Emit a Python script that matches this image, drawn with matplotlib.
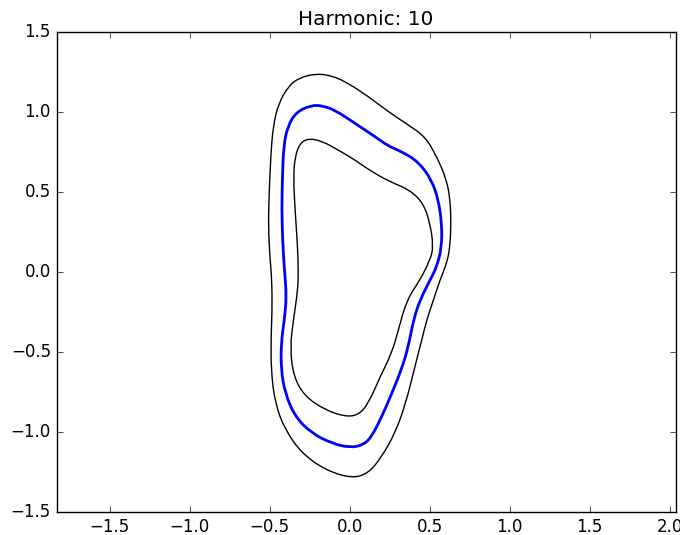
import matplotlib
matplotlib.use('Agg')
import matplotlib.pyplot as plt
from matplotlib.path import Path
from matplotlib.patches import PathPatch

# contour points (closed loops)
blue_x = [-0.240, -0.335, -0.388, -0.413, -0.421, -0.425, -0.419, -0.407, -0.395, -0.409,
          -0.429, -0.429, -0.404, -0.342, -0.238, -0.112, 0.002, 0.085, 0.137, 0.200,
          0.256, 0.325, 0.366, 0.398, 0.439, 0.502, 0.544, 0.575, 0.575, 0.554, 0.512,
          0.429, 0.325, 0.241, 0.158, 0.033, -0.092, -0.175]
blue_y = [1.042, 1.000, 0.910, 0.790, 0.596, 0.387, 0.179, -0.005, -0.154, -0.300,
          -0.446, -0.612, -0.758, -0.904, -1.008, -1.071, -1.098, -1.081, -1.029, -0.904,
          -0.775, -0.605, -0.467, -0.300, -0.175, -0.050, 0.033, 0.158, 0.304, 0.450, 0.575,
          0.689, 0.752, 0.787, 0.846, 0.929, 1.012, 1.040]

outer_x = [-0.222, -0.321, -0.380, -0.446, -0.479, -0.493, -0.504, -0.509, -0.498, -0.490,
           -0.484, -0.492, -0.492, -0.467, -0.404, -0.300, -0.154, 0.012, 0.117, 0.200,
           0.283, 0.350, 0.405, 0.450, 0.481, 0.523, 0.564, 0.606, 0.627, 0.633, 0.627,
           0.606, 0.544, 0.471, 0.366, 0.241, 0.117, -0.008, -0.112]
outer_y = [1.240, 1.210, 1.165, 1.054, 0.908, 0.740, 0.492, 0.283, 0.075, -0.003,
           -0.196, -0.404, -0.612, -0.821, -0.987, -1.133, -1.237, -1.290, -1.258, -1.154,
           -1.008, -0.821, -0.600, -0.425, -0.300, -0.175, -0.050, 0.054, 0.158, 0.325, 0.450,
           0.575, 0.721, 0.846, 0.919, 1.002, 1.096, 1.179, 1.228]

inner_x = [-0.259, -0.312, -0.342, -0.352, -0.342, -0.327, -0.321, -0.325, -0.352, -0.373,
           -0.352, -0.279, -0.154, -0.029, 0.054, 0.117, 0.190, 0.262, 0.304, 0.356,
           0.439, 0.502, 0.523, 0.502, 0.460, 0.377, 0.252, 0.137, 0.033,
           -0.071, -0.175]
inner_y = [0.835, 0.804, 0.721, 0.596, 0.387, 0.179, 0.000, -0.112, -0.300, -0.467,
           -0.654, -0.779, -0.862, -0.904, -0.894, -0.821, -0.654, -0.508, -0.362, -0.175,
           -0.050, 0.075, 0.158, 0.304, 0.429, 0.512, 0.564, 0.627, 0.700,
           0.762, 0.819]


def smooth_loop(xs, ys, **kw):
    # quadratic bezier through midpoints, read points as control points
    pts = list(zip(xs, ys))
    n = len(pts)
    mids = [((pts[i][0] + pts[(i + 1) % n][0]) / 2, (pts[i][1] + pts[(i + 1) % n][1]) / 2)
            for i in range(n)]
    verts = [mids[-1]]
    codes = [Path.MOVETO]
    for i in range(n):
        verts += [pts[i], mids[i]]
        codes += [Path.CURVE3, Path.CURVE3]
    return PathPatch(Path(verts, codes), fill=False, **kw)


plt.style.use('classic')
fig = plt.figure(figsize=(6.8, 5.35), dpi=100, facecolor='white')
ax = fig.add_axes([56.5 / 680, 23 / 535, 619 / 680, 480 / 535])

ax.add_patch(smooth_loop(outer_x, outer_y, edgecolor='k', lw=1.0))
ax.add_patch(smooth_loop(inner_x, inner_y, edgecolor='k', lw=1.0))
ax.add_patch(smooth_loop(blue_x, blue_y, edgecolor='b', lw=2.0))

ax.set_xlim(-1.833, 2.036)
ax.set_ylim(-1.5, 1.5)
ax.set_xticks([-1.5, -1.0, -0.5, 0.0, 0.5, 1.0, 1.5, 2.0])
ax.set_yticks([-1.5, -1.0, -0.5, 0.0, 0.5, 1.0, 1.5])
ax.set_title('Harmonic: 10')

fig.savefig('out.png', dpi=100, facecolor='white')
